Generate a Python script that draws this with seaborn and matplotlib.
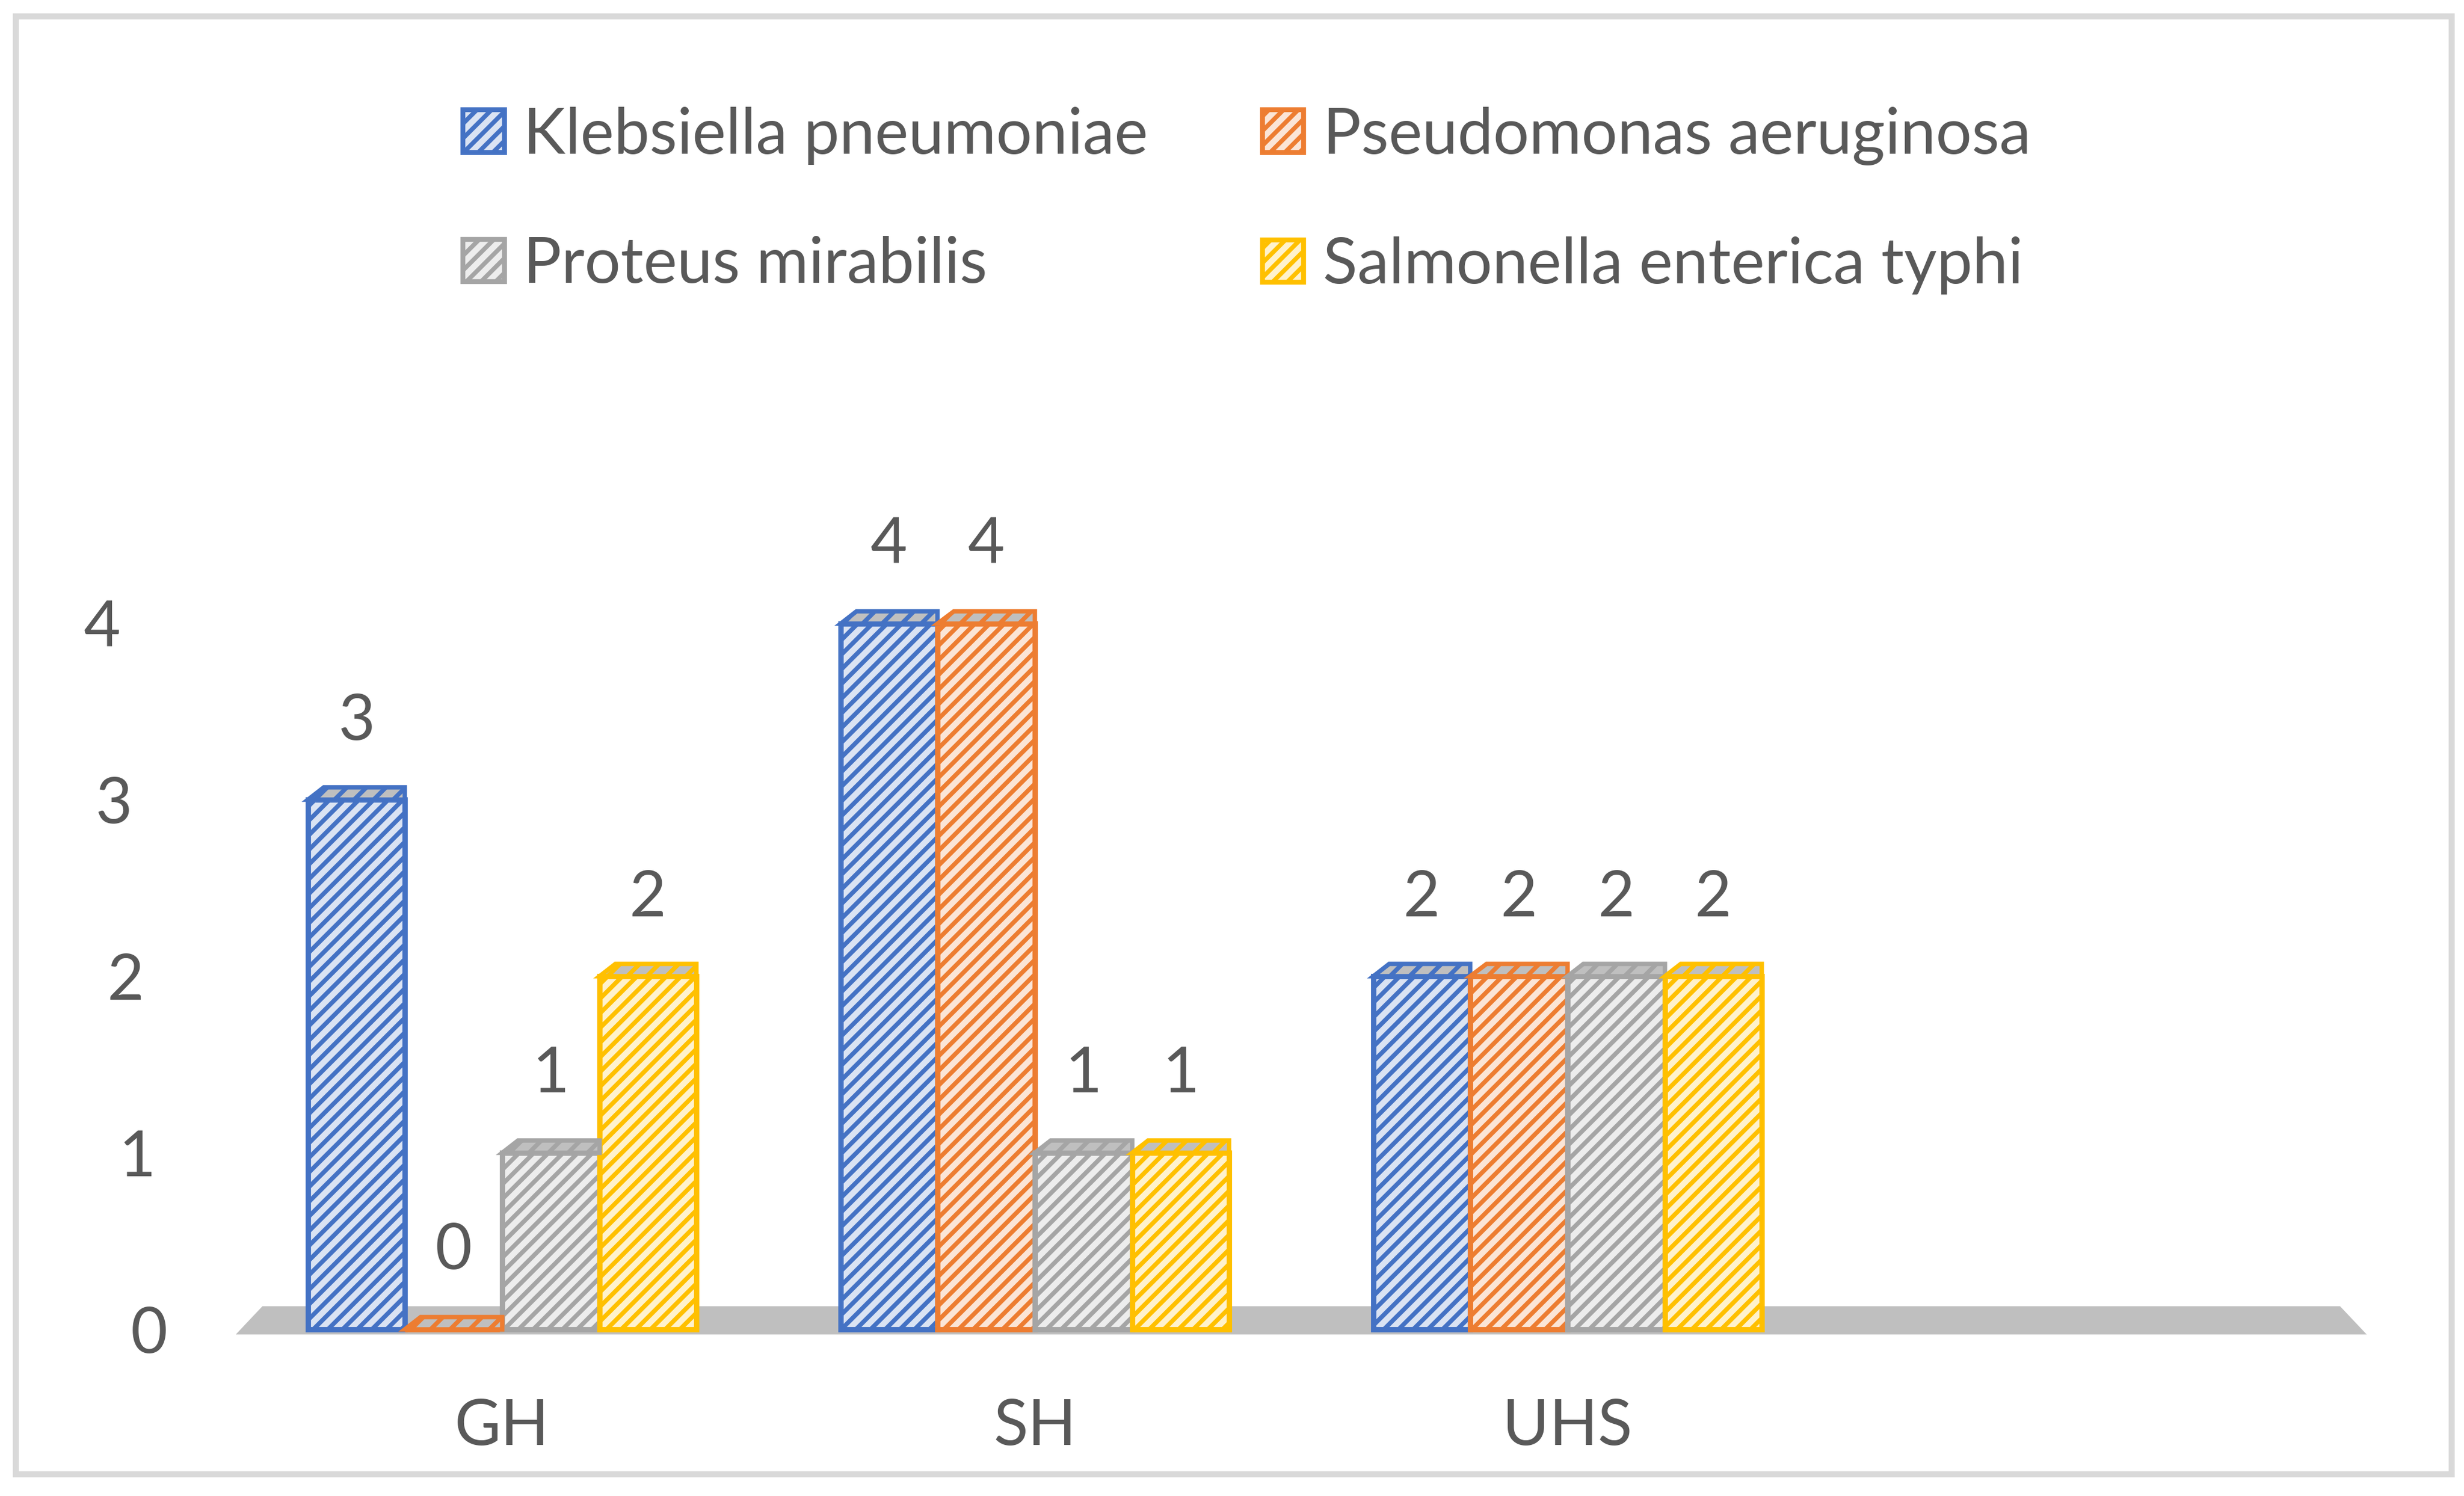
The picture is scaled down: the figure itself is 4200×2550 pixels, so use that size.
import numpy as np
import pandas as pd
import matplotlib
matplotlib.use("Agg")
import matplotlib.pyplot as plt
import seaborn as sns
from matplotlib.patches import Patch, Polygon, FancyBboxPatch
from matplotlib.transforms import ScaledTranslation

# ---- data ----
sites = ["GH", "SH", "UHS"]
organisms = ["Klebsiella pneumoniae", "Pseudomonas aeruginosa",
             "Proteus mirabilis", "Salmonella enterica typhi"]
klebsiella = [3, 4, 2]
pseudomonas = [0, 4, 2]
proteus = [1, 1, 2]
salmonella = [2, 1, 2]
yticks = [0, 1, 2, 3, 4]

colors = ["#4472C4", "#ED7D31", "#A5A5A5", "#FFC000"]
tints = ["#DAE3F3", "#FBE5D6", "#EDEDED", "#FFF2CC"]
text_color = "#595959"

df = pd.DataFrame({
    "site": sites * 4,
    "organism": np.repeat(organisms, len(sites)),
    "count": klebsiella + pseudomonas + proteus + salmonella,
})

sns.set_theme(style="white")
plt.rcParams["font.family"] = ["Lato", "DejaVu Sans"]
plt.rcParams["hatch.linewidth"] = 1.8

fig = plt.figure(figsize=(14, 8.5), dpi=300)
ax = fig.add_axes([0.0957, 0.108, 0.8648, 0.664])

sns.barplot(data=df, x="site", y="count", hue="organism", hue_order=organisms,
            order=sites, palette=colors, width=0.73, errorbar=None,
            saturation=1, ax=ax)

n_slots = len(sites) + 1
ax.set_xlim(-0.5, n_slots - 0.5)
ax.set_ylim(-0.03, 5.6)

# floor
ax.add_patch(Polygon([(-0.5, -0.03), (n_slots - 0.5, -0.03),
                      (n_slots - 0.55, 0.13), (-0.45, 0.13)],
                     closed=True, facecolor="#BFBFBF", edgecolor="none", zorder=0.5))

for cont, c, t in zip(ax.containers, colors, tints):
    for p in cont.patches:
        p.set_facecolor(t)
        p.set_edgecolor(c)
        p.set_hatch("////")
        p.set_linewidth(2.2)
        p.set_zorder(2)
        x, w, h = p.get_x(), p.get_width(), p.get_height()
        cap = Polygon([(x, h), (x + w, h), (x + w, h + 0.07), (x + 0.03, h + 0.07)],
                      closed=True, facecolor="#BFBFBF", edgecolor=c,
                      hatch="///", linewidth=1.8, zorder=2.1)
        ax.add_patch(cap)
    ax.bar_label(cont, padding=20, fontsize=26, color=text_color)

for s in ax.spines.values():
    s.set_visible(False)
ax.set_yticks(yticks)
ax.set_xticks(range(len(sites)))
ax.set_xticklabels(sites)
ax.set_xlabel("")
ax.set_ylabel("")
ax.tick_params(axis="y", length=0, labelsize=26, labelcolor=text_color, pad=28)
ax.tick_params(axis="x", length=0, labelsize=26, labelcolor=text_color, pad=26)
ax.grid(False)

# perspective-like stagger of the value axis labels
for i, lbl in enumerate(ax.get_yticklabels()):
    lbl.set_transform(lbl.get_transform() +
                      ScaledTranslation(-4.8 * i / 72, 0, fig.dpi_scale_trans))

ax.get_legend().remove()
handles = [Patch(facecolor=t, edgecolor=c, hatch="////", linewidth=2)
           for c, t in zip(colors, tints)]
order = [0, 2, 1, 3]
fig.legend([handles[i] for i in order], [organisms[i] for i in order],
           loc="center", bbox_to_anchor=(0.506, 0.866), ncol=2, frameon=False,
           fontsize=26, columnspacing=1.8, handlelength=0.65, handleheight=0.65,
           handletextpad=0.3, labelspacing=1.12, labelcolor=text_color)

fig.patches.append(FancyBboxPatch((0.0065, 0.0145), 0.9885, 0.9745,
                                  boxstyle="square,pad=0", transform=fig.transFigure,
                                  fill=False, edgecolor="#D9D9D9", linewidth=2.5))

fig.savefig("out.png", dpi=300)
